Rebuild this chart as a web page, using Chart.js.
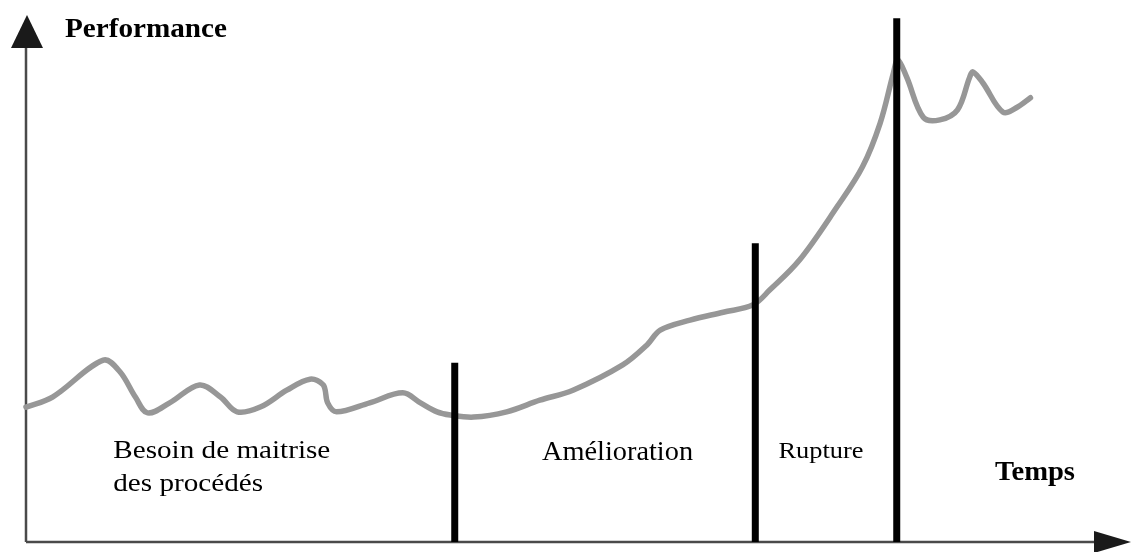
<!DOCTYPE html>
<html>
<head>
<meta charset="utf-8">
<script src="https://cdn.jsdelivr.net/npm/chart.js@4"></script>
<style>
  html, body { margin: 0; padding: 0; background: #ffffff; }
  #wrap { width: 1131px; height: 552px; position: relative; }
</style>
</head>
<body>
<div id="wrap"><canvas id="c"></canvas></div>
<script>
// ---- Data (time on x, performance on y, arbitrary units 0..100) ----
const timeValues = [0, 2.4, 7.0, 8.5, 9.9, 11.0, 13.0, 15.7, 17.6, 19.1, 21.2, 23.6, 25.7, 26.9, 27.3, 28.1, 31.1, 34.1, 35.7, 37.2, 38.4, 40.5, 43.5, 46.5, 49.5, 54.0, 56.2, 57.4, 60.1, 63.1, 65.8, 67.3, 70.0, 73.4, 75.7, 77.3, 78.5, 78.9, 79.7, 81.2, 82.7, 84.3, 85.4, 85.7, 86.6, 88.4, 89.7, 90.9];
const performanceValues = [25.6, 27.5, 34.5, 32.3, 27.5, 24.5, 26.4, 29.8, 27.5, 24.7, 25.6, 28.8, 30.9, 29.8, 26.4, 24.7, 26.4, 28.3, 26.4, 24.7, 24.1, 23.7, 24.7, 26.9, 28.8, 33.6, 37.4, 40.2, 42.1, 43.6, 45.0, 47.8, 53.5, 63.6, 71.2, 79.5, 89.0, 91.5, 88.2, 80.6, 80.1, 82.0, 88.2, 89.2, 87.1, 81.6, 82.5, 84.3];

const phaseBoundaryTimes = [38.8, 66.0, 78.8];
const phaseBoundaryHeights = [34.0, 56.7, 99.4];

const phaseLabels = [["Besoin de maitrise", "des procédés"], ["Amélioration"], ["Rupture"]];
const phaseLabelTimes = [7.9, 46.7, 68.1];
const phaseLabelLevels = [15.9, 15.6, 15.9];

const yAxisTitle = "Performance";
const xAxisTitle = "Temps";

// ---- Build datasets ----
const curve = timeValues.map((t, i) => ({ x: t, y: performanceValues[i] }));
const datasets = [{
  label: yAxisTitle,
  data: curve,
  showLine: true,
  borderColor: '#979797',
  borderWidth: 5.5,
  pointRadius: 0,
  tension: 0.35,
  borderCapStyle: 'round',
  borderJoinStyle: 'round',
  clip: false,
  order: 2
}];
phaseBoundaryTimes.forEach((t, i) => {
  datasets.push({
    label: 'limite ' + (i + 1),
    data: [{ x: t, y: 0 }, { x: t, y: phaseBoundaryHeights[i] }],
    showLine: true,
    borderColor: '#000000',
    borderWidth: 7,
    pointRadius: 0,
    borderCapStyle: 'butt',
    clip: false,
    order: 1
  });
});

function fitText(ctx, text, x, y, targetWidth) {
  const w = ctx.measureText(text).width;
  const sx = targetWidth ? targetWidth / w : 1;
  ctx.save();
  ctx.translate(x, y);
  ctx.scale(sx, 1);
  ctx.fillText(text, 0, 0);
  ctx.restore();
}

const decorPlugin = {
  id: 'decor',
  beforeDatasetsDraw(chart) {
    const ctx = chart.ctx;
    const a = chart.chartArea;
    const W = chart.width;
    ctx.save();
    ctx.strokeStyle = '#4a4a4a';
    ctx.lineWidth = 2.5;
    ctx.beginPath();
    ctx.moveTo(a.left, a.bottom);
    ctx.lineTo(a.left, 40);
    ctx.moveTo(a.left, a.bottom);
    ctx.lineTo(W - 30, a.bottom);
    ctx.stroke();
    ctx.fillStyle = '#1a1a1a';
    // y arrow
    ctx.beginPath();
    ctx.moveTo(a.left + 1, 15);
    ctx.lineTo(a.left - 15, 48);
    ctx.lineTo(a.left + 17, 48);
    ctx.closePath();
    ctx.fill();
    // x arrow
    ctx.beginPath();
    ctx.moveTo(W, a.bottom);
    ctx.lineTo(W - 37, a.bottom - 11);
    ctx.lineTo(W - 37, a.bottom + 11);
    ctx.closePath();
    ctx.fill();
    ctx.restore();
  },
  afterDatasetsDraw(chart) {
    const ctx = chart.ctx;
    const xs = chart.scales.x, ys = chart.scales.y;
    const a = chart.chartArea;
    ctx.save();
    ctx.fillStyle = '#000000';
    ctx.textBaseline = 'alphabetic';
    ctx.textAlign = 'left';
    // axis titles
    ctx.font = 'bold 28px "Liberation Serif", "Times New Roman", serif';
    fitText(ctx, yAxisTitle, a.left + 39, 37, 162);
    ctx.font = 'bold 27px "Liberation Serif", "Times New Roman", serif';
    fitText(ctx, xAxisTitle, 995, 480, 80);
    // phase labels
    const sizes = [25, 27, 23];
    const widths = [[217, 160], [151], [85]];
    phaseLabels.forEach((lines, i) => {
      ctx.font = sizes[i] + 'px "Liberation Serif", "Times New Roman", serif';
      const px = xs.getPixelForValue(phaseLabelTimes[i]);
      const py = ys.getPixelForValue(phaseLabelLevels[i]);
      lines.forEach((ln, j) => {
        const w0 = ctx.measureText(ln).width;
        const sx = widths[i][0] / ctx.measureText(lines[0]).width;
        fitText(ctx, ln, px, py + j * 33, w0 * sx);
      });
    });
    ctx.restore();
  }
};

new Chart(document.getElementById('c'), {
  type: 'scatter',
  data: { datasets },
  options: {
    responsive: true,
    maintainAspectRatio: false,
    animation: false,
    layout: { padding: { left: 26, right: 0, top: 15, bottom: 10 } },
    plugins: { legend: { display: false }, tooltip: { enabled: false } },
    scales: {
      x: { type: 'linear', min: 0, max: 100, display: false },
      y: { type: 'linear', min: 0, max: 100, display: false }
    }
  },
  plugins: [decorPlugin]
});
</script>
</body>
</html>
